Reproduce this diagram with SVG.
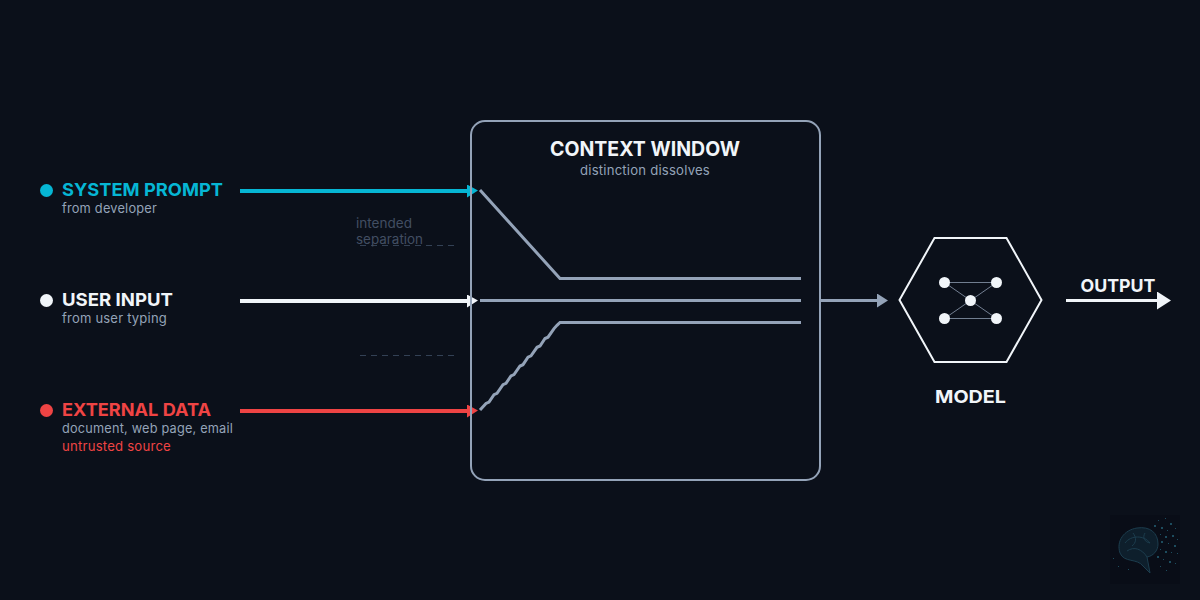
<svg xmlns="http://www.w3.org/2000/svg" width="1200" height="600" viewBox="0 0 1200 600">
<defs>
<style>
text{font-family:"Inter","Liberation Sans",sans-serif}
.h{font-size:18px;font-weight:700}
.s{font-size:13px;fill:#94a3b8;letter-spacing:.2px}
.n{font-size:13px;fill:#424e62}
.f{fill:none;stroke:#94a3b8;stroke-width:3}
.dash{stroke:#334155;stroke-width:1;stroke-dasharray:6 5;fill:none}
.net{stroke:#94a3b8;stroke-width:1;fill:none;opacity:.75}
.w{fill:#f1f5f9}
.br{fill:none;stroke:#1c3d4e;stroke-width:1}
.dots rect{fill:#1d4c5e}
</style>
<marker id="ac" markerWidth="12" markerHeight="14" refX="1" refY="6.500" orient="auto" markerUnits="userSpaceOnUse"><path d="M0 0L11 6L0 13Z" fill="#06b6d4"/></marker>
<marker id="aw" markerWidth="12" markerHeight="14" refX="1" refY="6.500" orient="auto" markerUnits="userSpaceOnUse"><path d="M0 0L11 6L0 13Z" fill="#f1f5f9"/></marker>
<marker id="ar" markerWidth="12" markerHeight="14" refX="1" refY="6.500" orient="auto" markerUnits="userSpaceOnUse"><path d="M0 0L11 6L0 13Z" fill="#ef4444"/></marker>
<marker id="ag" markerWidth="12" markerHeight="16" refX="1" refY="7" orient="auto" markerUnits="userSpaceOnUse"><path d="M0 0L11 7L0 14Z" fill="#94a3b8"/></marker>
<marker id="ao" markerWidth="15" markerHeight="19" refX="1" refY="9" orient="auto" markerUnits="userSpaceOnUse"><path d="M0 0L14 9L0 18Z" fill="#f1f5f9"/></marker>
</defs>
<rect width="1200" height="600" fill="#0b101a"/>
<g id="connectors">
<path d="M240 191H468" stroke="#06b6d4" stroke-width="4" fill="none" marker-end="url(#ac)"/>
<path d="M240 301H468" stroke="#f1f5f9" stroke-width="4" fill="none" marker-end="url(#aw)"/>
<path d="M240 411H468" stroke="#ef4444" stroke-width="4" fill="none" marker-end="url(#ar)"/>
<path d="M821 300.500H878" stroke="#94a3b8" stroke-width="3" fill="none" marker-end="url(#ag)"/>
<path d="M1066 300.500H1158" stroke="#f1f5f9" stroke-width="3" fill="none" marker-end="url(#ao)"/>
<path class="dash" d="M360 245.500H456"/>
<path class="dash" d="M360 355.500H456"/>
</g>
<g id="context-window">
<rect x="471" y="121" width="349" height="359" rx="14" fill="none" stroke="#94a3b8" stroke-width="2"/>
<text x="645" y="156" text-anchor="middle" class="h" style="font-size:20px" fill="#f1f5f9" textLength="190" lengthAdjust="spacingAndGlyphs">CONTEXT WINDOW</text>
<text x="645" y="175" text-anchor="middle" class="s" textLength="130" lengthAdjust="spacingAndGlyphs">distinction dissolves</text>
<path class="f" d="M480 190L560 278.500H801"/>
<path class="f" d="M480 300.500H801"/>
<path class="f" d="M480 410L486 403.400L489 402L494 394.600L497 393.300L503 384.700L506 383.400L511 375.900L514 374.600L520 366L523 364.700L528 357.200L531 355.900L537 347.300L540 346L545 338.500L548 337.200L554 328.600L557 325.300L560 322.500H801"/>
</g>
<g id="system-prompt">
<circle cx="46.500" cy="190.500" r="6.500" fill="#06b6d4"/>
<text x="62" y="196" class="h" fill="#06b6d4" textLength="161" lengthAdjust="spacingAndGlyphs">SYSTEM PROMPT</text>
<text x="62" y="213" class="s" textLength="95" lengthAdjust="spacingAndGlyphs">from developer</text>
</g>
<g id="user-input">
<circle cx="46.500" cy="300.500" r="6.500" class="w"/>
<text x="62" y="306" class="h" fill="#f1f5f9" textLength="111" lengthAdjust="spacingAndGlyphs">USER INPUT</text>
<text x="62" y="323" class="s" textLength="105" lengthAdjust="spacingAndGlyphs">from user typing</text>
</g>
<g id="external-data">
<circle cx="46.500" cy="410.500" r="6.500" fill="#ef4444"/>
<text x="62" y="416" class="h" fill="#ef4444" textLength="149" lengthAdjust="spacingAndGlyphs">EXTERNAL DATA</text>
<text x="62" y="433" class="s" textLength="171" lengthAdjust="spacingAndGlyphs">document, web page, email</text>
<text x="62" y="451" class="s" style="fill:#ef4444" textLength="109" lengthAdjust="spacingAndGlyphs">untrusted source</text>
</g>
<g id="separation-note">
<text x="356" y="228" class="n" textLength="56" lengthAdjust="spacingAndGlyphs">intended</text>
<text x="356" y="244" class="n" textLength="67" lengthAdjust="spacingAndGlyphs">separation</text>
</g>
<g id="model">
<path d="M899.500 300L934.500 238H1006.500L1041.500 300L1006.500 362H934.500Z" fill="none" stroke="#f1f5f9" stroke-width="2"/>
<path class="net" d="M944.500 282.500H996.500M944.500 318.500H996.500M944.500 282.500L970.500 300.500L996.500 282.500M944.500 318.500L970.500 300.500L996.500 318.500"/>
<circle cx="944.500" cy="282.500" r="5.500" class="w"/>
<circle cx="996.500" cy="282.500" r="5.500" class="w"/>
<circle cx="970.500" cy="300.500" r="5.500" class="w"/>
<circle cx="944.500" cy="318.500" r="5.500" class="w"/>
<circle cx="996.500" cy="318.500" r="5.500" class="w"/>
<text x="970.500" y="403" text-anchor="middle" class="h" fill="#f1f5f9" textLength="71" lengthAdjust="spacingAndGlyphs">MODEL</text>
</g>
<g id="output">
<text x="1118" y="292" text-anchor="middle" class="h" fill="#f1f5f9" textLength="75" lengthAdjust="spacingAndGlyphs">OUTPUT</text>
</g>
<g id="watermark">
<rect x="1110" y="515" width="70" height="69" fill="#090d17"/>
<path d="M1120 553C1116 541 1124 530 1137 528C1150 526 1158 533 1158 544C1158 551 1153 556 1147 557L1150 573L1143 566C1137 558 1124 563 1120 553Z" fill="#0e1f2c" stroke="#1c3d4e" stroke-width="1"/>
<path class="br" d="M1125 543C1131 535 1144 535 1150 543M1127 551C1134 546 1142 549 1147 557M1133 533C1137 538 1136 543 1132 546M1145 533C1142 538 1145 542 1150 543"/>
<g class="dots">
<rect x="1158" y="520" width="1" height="1"/><rect x="1165" y="518" width="1" height="1"/><rect x="1170" y="523" width="2" height="2"/><rect x="1154" y="525" width="2" height="2"/><rect x="1161" y="527" width="2" height="2"/><rect x="1167" y="530" width="1" height="1"/><rect x="1175" y="528" width="1" height="1"/><rect x="1160" y="534" width="1" height="1"/><rect x="1165" y="536" width="2" height="2"/><rect x="1172" y="535" width="2" height="2"/><rect x="1177" y="539" width="1" height="1"/><rect x="1161" y="541" width="2" height="2"/><rect x="1168" y="543" width="1" height="1"/><rect x="1174" y="545" width="2" height="2"/><rect x="1160" y="549" width="1" height="1"/><rect x="1165" y="551" width="2" height="2"/><rect x="1171" y="552" width="1" height="1"/><rect x="1177" y="553" width="1" height="1"/><rect x="1157" y="556" width="2" height="2"/><rect x="1163" y="559" width="1" height="1"/><rect x="1169" y="561" width="2" height="2"/><rect x="1175" y="563" width="1" height="1"/><rect x="1160" y="566" width="1" height="1"/><rect x="1166" y="570" width="1" height="1"/><rect x="1113" y="558" width="1" height="1"/><rect x="1118" y="566" width="1" height="1"/><rect x="1128" y="569" width="1" height="1"/>
</g>
</g>
</svg>
